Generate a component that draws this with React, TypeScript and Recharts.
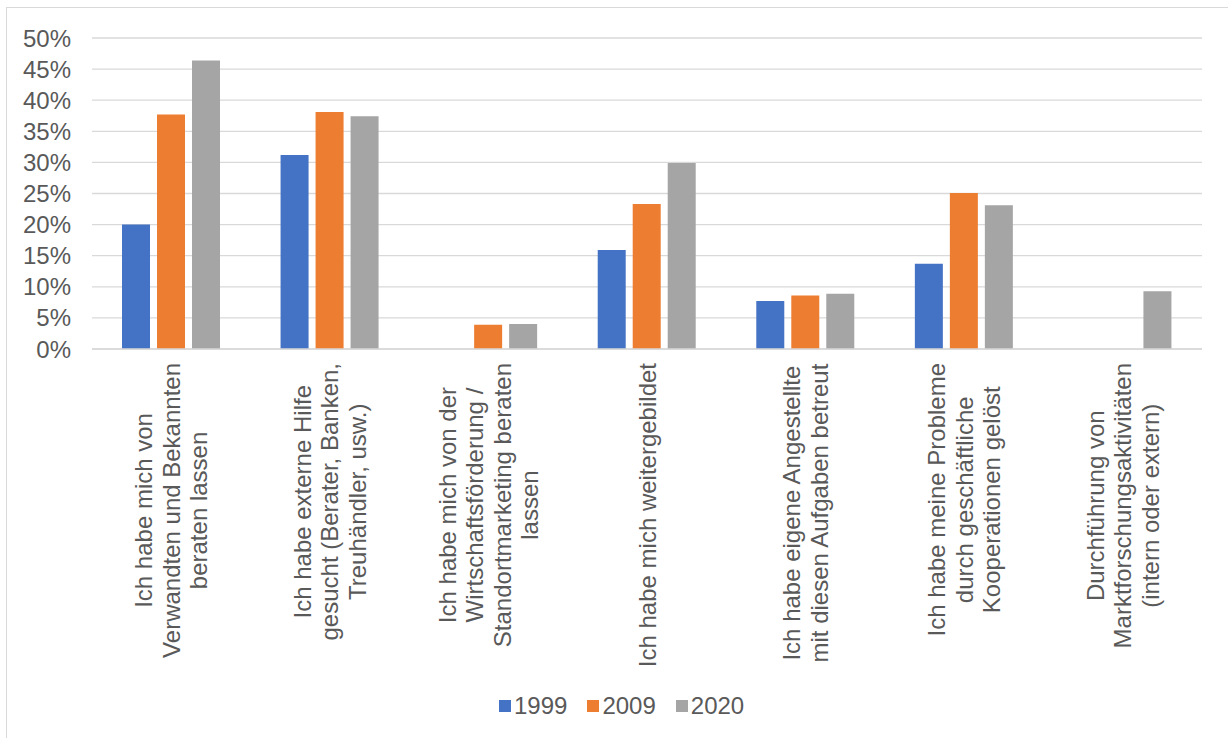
import React from 'react';
import { BarChart, Bar, XAxis, YAxis, CartesianGrid } from 'recharts';

const FONT = '"Liberation Sans", Arial, sans-serif';
const TEXT_COLOR = '#595959';
const GRID_COLOR = '#d9d9d9';
const FONT_SIZE = 24;
const LINE_HEIGHT = 27.5;

// category labels, one entry per wrapped line
const labelLines: string[][] = [
  ['Ich habe mich von', 'Verwandten und Bekannten', 'beraten lassen'],
  ['Ich habe externe Hilfe', 'gesucht (Berater, Banken,', 'Treuhändler, usw.)'],
  ['Ich habe mich von der', 'Wirtschaftsförderung /', 'Standortmarketing beraten', 'lassen'],
  ['Ich habe mich weitergebildet'],
  ['Ich habe eigene Angestellte', 'mit diesen Aufgaben betreut'],
  ['Ich habe meine Probleme', 'durch geschäftliche', 'Kooperationen gelöst'],
  ['Durchführung von', 'Marktforschungsaktivitäten', '(intern oder extern)'],
];
const categories = labelLines.map((lines) => lines.join(' '));

const years = ['1999', '2009', '2020'];
const colors = ['#4472C4', '#ED7D31', '#A5A5A5'];

// shares in percent
const values1999 = [20.0, 31.2, null, 15.9, 7.7, 13.7, null];
const values2009 = [37.7, 38.1, 3.9, 23.3, 8.6, 25.1, null];
const values2020 = [46.4, 37.4, 4.0, 29.9, 8.9, 23.1, 9.3];

const yTicks = [0, 5, 10, 15, 20, 25, 30, 35, 40, 45, 50];

const data = categories.map((name, i) => ({
  name,
  y1999: values1999[i],
  y2009: values2009[i],
  y2020: values2020[i],
}));

let ctx: CanvasRenderingContext2D | null = null;
const textWidth = (s: string) => {
  if (!ctx) ctx = document.createElement('canvas').getContext('2d');
  if (!ctx) return s.length * FONT_SIZE * 0.5;
  ctx.font = `${FONT_SIZE}px ${FONT}`;
  return ctx.measureText(s).width;
};

const CategoryTick = (props: any) => {
  const { x, y, payload } = props;
  const idx = categories.indexOf(payload.value);
  const lines = labelLines[idx] || [String(payload.value)];
  const maxW = Math.max(...lines.map(textWidth));
  const n = lines.length;
  return (
    <g transform={`translate(${x},${y}) rotate(-90)`}>
      {lines.map((line, i) => (
        <text
          key={i}
          x={-maxW / 2}
          y={(i - (n - 1) / 2) * LINE_HEIGHT}
          textAnchor="middle"
          dominantBaseline="central"
          fill={TEXT_COLOR}
          fontSize={FONT_SIZE}
          fontFamily={FONT}
        >
          {line}
        </text>
      ))}
    </g>
  );
};

const LegendRow = () => (
  <div
    style={{
      position: 'absolute',
      left: 499,
      top: 694,
      height: 24,
      display: 'flex',
      alignItems: 'center',
      fontFamily: FONT,
      fontSize: FONT_SIZE,
      color: TEXT_COLOR,
      lineHeight: '24px',
    }}
  >
    {years.map((year, i) => (
      <div key={year} style={{ display: 'flex', alignItems: 'center', marginRight: i < years.length - 1 ? 20 : 0 }}>
        <span style={{ width: 12, height: 12, background: colors[i], marginRight: 3, display: 'inline-block' }} />
        <span>{year}</span>
      </div>
    ))}
  </div>
);

export default function App() {
  return (
    <div style={{ position: 'absolute', left: 0, top: 0, width: 1228, height: 738, background: '#fff', overflow: 'hidden' }}>
      <div
        style={{
          position: 'absolute',
          left: 6,
          top: 7,
          width: 1300,
          height: 800,
          border: `1.5px solid ${GRID_COLOR}`,
          boxSizing: 'border-box',
        }}
      />
      <div style={{ position: 'absolute', left: 0, top: 0 }}>
        <BarChart
          width={1228}
          height={738}
          data={data}
          margin={{ top: 38, right: 26, left: 0, bottom: 0 }}
          barSize={28}
          barGap={7}
        >
          <CartesianGrid vertical={false} stroke={GRID_COLOR} strokeWidth={1.3} />
          <XAxis
            dataKey="name"
            interval={0}
            height={389}
            tickLine={false}
            tickSize={0}
            tickMargin={14}
            axisLine={{ stroke: GRID_COLOR, strokeWidth: 1.5 }}
            tick={<CategoryTick />}
          />
          <YAxis
            width={92}
            domain={[0, 50]}
            ticks={yTicks}
            interval={0}
            axisLine={false}
            tickLine={false}
            tickMargin={15}
            tickFormatter={(v: number) => `${v}%`}
            tick={{ fill: TEXT_COLOR, fontSize: FONT_SIZE, fontFamily: FONT }}
          />
          <Bar dataKey="y1999" name="1999" fill={colors[0]} isAnimationActive={false} />
          <Bar dataKey="y2009" name="2009" fill={colors[1]} isAnimationActive={false} />
          <Bar dataKey="y2020" name="2020" fill={colors[2]} isAnimationActive={false} />
        </BarChart>
      </div>
      <LegendRow />
    </div>
  );
}
